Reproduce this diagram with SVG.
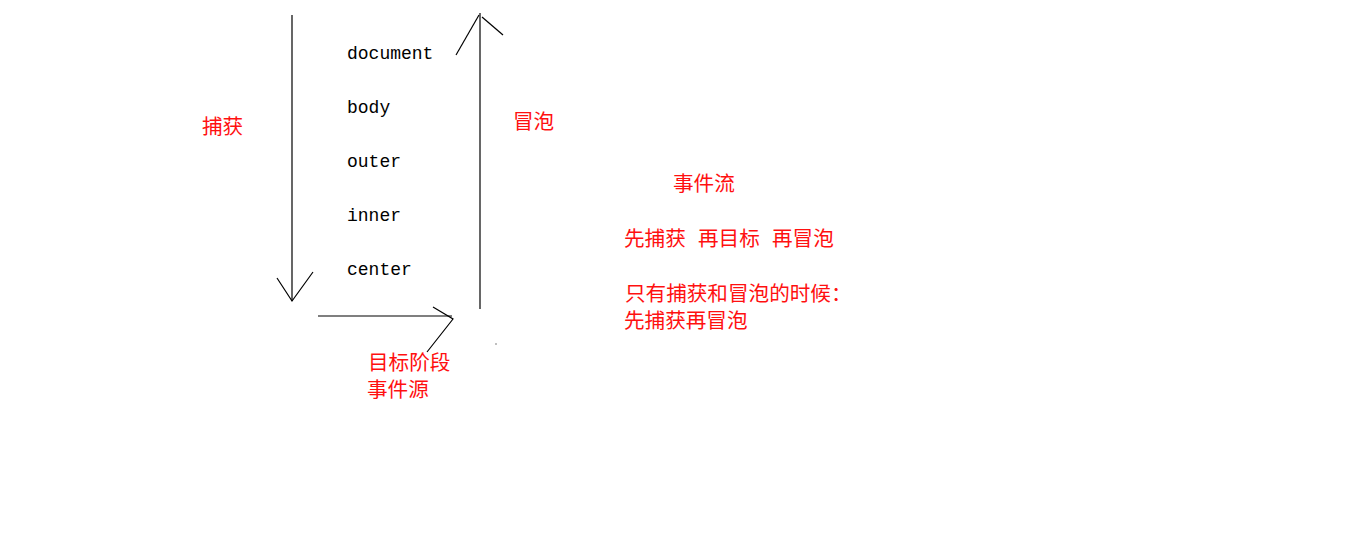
<svg xmlns="http://www.w3.org/2000/svg" width="1360" height="540" viewBox="0 0 1360 540">
<style>
.ln{stroke:#000;stroke-width:1.2;fill:none}
.el{font-family:"Liberation Mono",monospace;font-size:18px;fill:#000}
.cn{font-family:"Noto Sans CJK SC","Noto Sans CJK JP",sans-serif;font-size:20.6px;fill:#ff1010}
</style>
<rect width="1360" height="540" fill="#fff"/>
<g id="connectors">
<line class="ln" x1="292" y1="15" x2="292" y2="301"/>
<polyline class="ln" points="277,278 292,301 313,272"/>
<line class="ln" x1="318" y1="316" x2="452" y2="316"/>
<polyline class="ln" points="433,307 453,319 427,352"/>
<line class="ln" x1="480" y1="13" x2="480" y2="309"/>
<line class="ln" x1="456" y1="55" x2="479" y2="15"/>
<line class="ln" x1="482" y1="17" x2="503" y2="35"/>
<rect x="495.5" y="343.5" width="1" height="1" fill="#000"/>
</g>
<g id="document"><text class="el" x="347" y="59">document</text></g>
<g id="body"><text class="el" x="347" y="113">body</text></g>
<g id="outer"><text class="el" x="347" y="167">outer</text></g>
<g id="inner"><text class="el" x="347" y="221">inner</text></g>
<g id="center"><text class="el" x="347" y="275">center</text></g>
<g id="capture"><text class="cn" x="202" y="134">捕获</text></g>
<g id="bubble"><text class="cn" x="513" y="129">冒泡</text></g>
<g id="target"><text class="cn" x="368" y="370">目标阶段</text><text class="cn" x="367" y="397">事件源</text></g>
<g id="notes">
<text class="cn" x="673" y="191">事件流</text>
<text class="cn" y="246"><tspan x="624">先捕获</tspan><tspan x="698">再目标</tspan><tspan x="772">再冒泡</tspan></text>
<text class="cn" x="625" y="301">只有捕获和冒泡的时候：</text>
<text class="cn" x="624" y="328">先捕获再冒泡</text>
</g>
</svg>
